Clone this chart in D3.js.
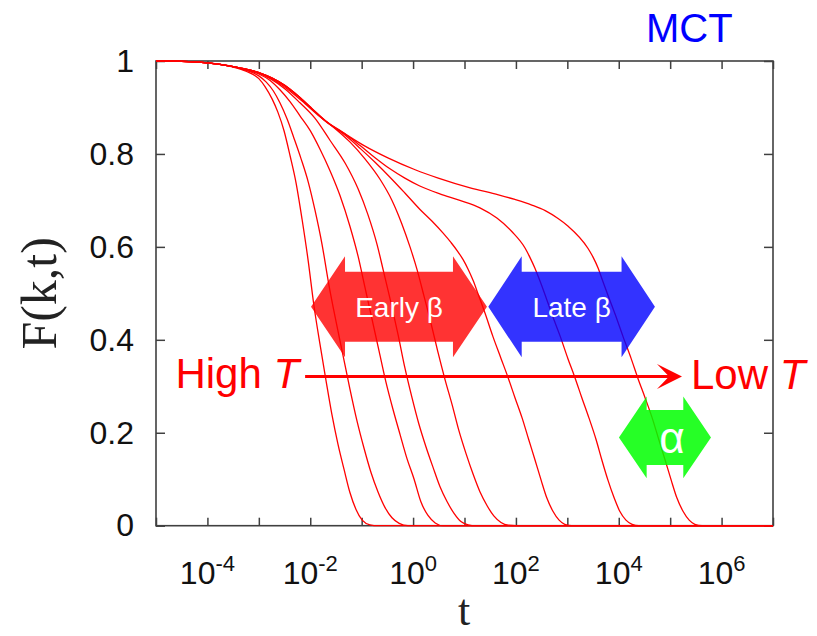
<!DOCTYPE html>
<html>
<head>
<meta charset="utf-8">
<script src="https://cdnjs.cloudflare.com/ajax/libs/d3/7.8.5/d3.min.js"></script>
<style>
  body { margin: 0; background: #fff; }
  svg text { font-family: "Liberation Sans", Arial, sans-serif; }
</style>
</head>
<body>
<svg id="chart" width="817" height="636"></svg>
<script>
// ---- data -------------------------------------------------------------
// Each curve: [log10 t, F(k,t)] samples, from high T (fast) to low T (slow).
const curveHighT1 = [[-5,1],[-4.5,0.9993],[-4,0.996],[-3.5,0.987],[-3.25,0.978],[-3.0,0.962],[-2.88,0.945],[-2.74,0.918],[-2.63,0.89],[-2.51,0.85],[-2.39,0.795],[-2.28,0.74],[-2.16,0.66],[-2.04,0.57],[-1.93,0.475],[-1.81,0.39],[-1.69,0.31],[-1.58,0.24],[-1.46,0.175],[-1.34,0.12],[-1.23,0.072],[-1.11,0.035],[-0.99,0.012],[-0.84,0.002],[-0.68,0],[7,0]];
const curveT2 = [[-5,1],[-4.5,0.9993],[-4,0.996],[-3.5,0.988],[-3.25,0.980],[-3.0,0.968],[-2.86,0.955],[-2.72,0.936],[-2.59,0.91],[-2.45,0.875],[-2.32,0.835],[-2.18,0.79],[-2.04,0.74],[-1.91,0.68],[-1.77,0.605],[-1.64,0.52],[-1.50,0.44],[-1.36,0.365],[-1.23,0.295],[-1.09,0.225],[-0.95,0.165],[-0.82,0.115],[-0.68,0.072],[-0.55,0.04],[-0.41,0.017],[-0.27,0.005],[-0.10,0],[7,0]];
const curveT3 = [[-5,1],[-4.5,0.9993],[-4,0.996],[-3.5,0.988],[-3.25,0.981],[-3.0,0.972],[-2.78,0.958],[-2.59,0.938],[-2.39,0.912],[-2.20,0.882],[-2.00,0.85],[-1.81,0.81],[-1.62,0.765],[-1.42,0.71],[-1.23,0.645],[-1.07,0.58],[-0.94,0.515],[-0.80,0.445],[-0.66,0.375],[-0.53,0.31],[-0.39,0.25],[-0.25,0.195],[-0.12,0.145],[0.02,0.10],[0.15,0.052],[0.29,0.022],[0.43,0.006],[0.58,0],[7,0]];
const curveT4 = [[-5,1],[-4.5,0.9993],[-4,0.996],[-3.5,0.988],[-3.25,0.9822],[-3.0,0.974],[-2.78,0.962],[-2.49,0.94],[-2.20,0.91],[-1.91,0.877],[-1.62,0.83],[-1.32,0.78],[-1.07,0.725],[-0.88,0.67],[-0.70,0.605],[-0.57,0.545],[-0.43,0.48],[-0.29,0.41],[-0.16,0.34],[-0.02,0.275],[0.11,0.22],[0.25,0.17],[0.39,0.125],[0.52,0.085],[0.66,0.052],[0.80,0.026],[0.93,0.009],[1.07,0.002],[1.22,0],[7,0]];
const curveT5 = [[-5,1],[-4.5,0.9993],[-4,0.996],[-3.5,0.988],[-3.25,0.9825],[-3.0,0.975],[-2.69,0.958],[-2.39,0.935],[-2.10,0.908],[-1.81,0.88],[-1.52,0.855],[-1.23,0.826],[-0.94,0.79],[-0.64,0.745],[-0.41,0.70],[-0.22,0.65],[-0.06,0.60],[0.08,0.55],[0.21,0.495],[0.35,0.435],[0.48,0.375],[0.62,0.315],[0.76,0.26],[0.89,0.205],[1.03,0.155],[1.17,0.11],[1.30,0.073],[1.44,0.043],[1.57,0.021],[1.71,0.007],[1.85,0.001],[2.00,0],[7,0]];
const curveT6 = [[-5,1],[-4.5,0.9993],[-4,0.996],[-3.5,0.988],[-3.25,0.9825],[-3.0,0.975],[-2.74,0.963],[-2.49,0.947],[-2.24,0.925],[-1.97,0.897],[-1.62,0.864],[-1.32,0.840],[-1.03,0.812],[-0.74,0.782],[-0.45,0.750],[-0.16,0.716],[0.13,0.681],[0.37,0.655],[0.58,0.630],[0.74,0.609],[0.87,0.590],[0.97,0.573],[1.07,0.552],[1.17,0.527],[1.26,0.500],[1.40,0.457],[1.55,0.408],[1.71,0.36],[1.85,0.318],[1.98,0.276],[2.12,0.232],[2.25,0.185],[2.37,0.142],[2.49,0.098],[2.60,0.06],[2.72,0.031],[2.84,0.012],[2.95,0.003],[3.09,0],[7,0]];
const curveT7 = [[-5,1],[-4.5,0.9993],[-4,0.996],[-3.5,0.988],[-3.25,0.9825],[-3.0,0.975],[-2.74,0.963],[-2.49,0.947],[-2.24,0.925],[-1.97,0.898],[-1.71,0.871],[-1.32,0.843],[-1.03,0.818],[-0.74,0.792],[-0.45,0.768],[-0.16,0.748],[0.13,0.731],[0.52,0.714],[0.91,0.700],[1.30,0.684],[1.63,0.662],[1.92,0.633],[2.18,0.597],[2.27,0.578],[2.37,0.554],[2.47,0.526],[2.57,0.496],[2.70,0.455],[2.86,0.408],[3.01,0.36],[3.15,0.318],[3.28,0.276],[3.42,0.232],[3.56,0.185],[3.67,0.142],[3.79,0.098],[3.91,0.06],[4.02,0.031],[4.14,0.012],[4.26,0.003],[4.39,0],[7,0]];
const curveLowT8 = [[-5,1],[-4.5,0.9993],[-4,0.996],[-3.5,0.988],[-3.25,0.9825],[-3.0,0.975],[-2.74,0.963],[-2.49,0.947],[-2.24,0.925],[-1.97,0.898],[-1.71,0.872],[-1.39,0.848],[-0.97,0.819],[-0.48,0.791],[0.04,0.766],[0.49,0.748],[1.11,0.727],[1.66,0.712],[1.98,0.702],[2.31,0.690],[2.57,0.678],[2.82,0.661],[3.01,0.645],[3.40,0.597],[3.50,0.578],[3.60,0.554],[3.69,0.526],[3.79,0.496],[3.93,0.455],[4.08,0.408],[4.24,0.36],[4.37,0.318],[4.51,0.276],[4.65,0.232],[4.78,0.185],[4.90,0.142],[5.02,0.098],[5.13,0.06],[5.25,0.031],[5.37,0.012],[5.48,0.003],[5.62,0],[7,0]];
const curves = [curveHighT1, curveT2, curveT3, curveT4, curveT5, curveT6, curveT7, curveLowT8];

const decadeExponents = [-5,-4,-3,-2,-1,0,1,2,3,4,5,6,7];
const labelledExponents = [-4,-2,0,2,4,6];
const yTickValues = [0, 0.2, 0.4, 0.6, 0.8, 1];
const yTickLabels = ["0", "0.2", "0.4", "0.6", "0.8", "1"];

// Regime markers: log10 t span of each double arrow and the F level of its axis
const regimeNames = ["Early \u03b2", "Late \u03b2", "\u03b1"];
const regimeStart = [-1.985, 1.463, 4.004];
const regimeEnd = [1.437, 4.704, 5.794];
const regimeLevel = [0.471, 0.471, 0.190];

// Temperature arrow: log10 t span and F level
const tempArrowSpan = [-2.10, 5.23];
const tempArrowLevel = 0.321;

// ---- layout -----------------------------------------------------------
const plot = { left: 156, right: 773, top: 61, bottom: 525.7 };

const svg = d3.select("#chart");
const x = d3.scaleLog().domain([1e-5, 1e7]).range([plot.left, plot.right]);
const y = d3.scaleLinear().domain([0, 1]).range([plot.bottom, plot.top]);
const xt = L => x(Math.pow(10, L));

const axisColor = "#404040";

// frame
svg.append("rect")
  .attr("x", plot.left).attr("y", plot.top)
  .attr("width", plot.right - plot.left).attr("height", plot.bottom - plot.top)
  .attr("fill", "none").attr("stroke", axisColor).attr("stroke-width", 1.6);

// inward ticks on all four sides
const decades = decadeExponents.map(e => Math.pow(10, e));
function styleAxis(g) {
  g.select(".domain").remove();
  g.selectAll(".tick line").attr("stroke", axisColor).attr("stroke-width", 1.5);
}
svg.append("g").attr("transform", `translate(0,${plot.bottom})`)
  .call(d3.axisBottom(x).tickValues(decades).tickSize(-8).tickFormat(""))
  .call(styleAxis);
svg.append("g").attr("transform", `translate(0,${plot.top})`)
  .call(d3.axisTop(x).tickValues(decades).tickSize(-8).tickFormat(""))
  .call(styleAxis);
svg.append("g").attr("transform", `translate(${plot.right},0)`)
  .call(d3.axisRight(y).tickValues(yTickValues).tickSize(-9).tickFormat(""))
  .call(styleAxis);
const yAxis = svg.append("g").attr("transform", `translate(${plot.left},0)`)
  .call(d3.axisLeft(y).tickValues(yTickValues).tickSize(-9).tickPadding(22)
    .tickFormat((d, i) => yTickLabels[i]))
  .call(styleAxis);
yAxis.selectAll(".tick text")
  .attr("font-family", "Liberation Sans, Arial, sans-serif")
  .attr("font-size", 32).attr("fill", "#111");

// x tick labels as powers of ten
const xl = svg.append("g");
labelledExponents.forEach(e => {
  const t = xl.append("text")
    .attr("x", x(Math.pow(10, e))).attr("y", 584)
    .attr("text-anchor", "middle").attr("font-size", 32).attr("fill", "#111");
  t.append("tspan").text("10");
  t.append("tspan").attr("dy", -13).attr("font-size", 22).text(e);
});

// axis titles
svg.append("text")
  .attr("transform", `translate(56,${(plot.top + plot.bottom) / 2}) rotate(-90)`)
  .attr("text-anchor", "middle")
  .style("font-family", "'Liberation Serif', 'Times New Roman', serif")
  .attr("font-size", 50).attr("fill", "#222").text("F(k,t)");
svg.append("text")
  .attr("x", 464).attr("y", 625).attr("text-anchor", "middle")
  .style("font-family", "'Liberation Serif', 'Times New Roman', serif")
  .attr("font-size", 44).attr("fill", "#222").text("t");

// correlation curves
const line = d3.line()
  .x(d => xt(d[0]))
  .y(d => y(d[1]))
  .curve(d3.curveMonotoneX);
svg.append("g").selectAll("path").data(curves).join("path")
  .attr("d", line)
  .attr("fill", "none").attr("stroke", "#ff0000").attr("stroke-width", 1.3);

// double-headed regime arrows
const regimeStyle = [
  { fill: "rgba(255,0,0,0.8)", head: 34, headHalf: 50.5, shaftHalf: 35, size: 28, dx: 0 },
  { fill: "rgba(0,0,255,0.8)", head: 33.4, headHalf: 50.5, shaftHalf: 35, size: 28, dx: 0 },
  { fill: "rgba(0,255,0,0.85)", head: 27.7, headHalf: 40.8, shaftHalf: 27.5, size: 44, dx: 7 }
];
regimeNames.forEach((name, i) => {
  const s = regimeStyle[i];
  const x1 = xt(regimeStart[i]), x2 = xt(regimeEnd[i]), yc = y(regimeLevel[i]);
  const pts = [
    [x1, yc], [x1 + s.head, yc - s.headHalf], [x1 + s.head, yc - s.shaftHalf],
    [x2 - s.head, yc - s.shaftHalf], [x2 - s.head, yc - s.headHalf], [x2, yc],
    [x2 - s.head, yc + s.headHalf], [x2 - s.head, yc + s.shaftHalf],
    [x1 + s.head, yc + s.shaftHalf], [x1 + s.head, yc + s.headHalf]
  ];
  svg.append("polygon").attr("points", pts.map(p => p.join(",")).join(" "))
    .attr("fill", s.fill);
  svg.append("text")
    .attr("x", (x1 + x2) / 2 + s.dx).attr("y", yc)
    .attr("dy", "0.36em")
    .attr("text-anchor", "middle").attr("fill", "#fff")
    .attr("font-size", s.size).text(name);
});

// High T -> Low T arrow
const ay = y(tempArrowLevel);
const ax1 = xt(tempArrowSpan[0]), ax2 = xt(tempArrowSpan[1]);
svg.append("line")
  .attr("x1", ax1).attr("x2", ax2 - 12).attr("y1", ay).attr("y2", ay)
  .attr("stroke", "#ff0000").attr("stroke-width", 3);
svg.append("polygon")
  .attr("points", [[ax2, ay], [ax2 - 25, ay - 12.5], [ax2 - 13, ay], [ax2 - 25, ay + 12.5]]
    .map(p => p.join(",")).join(" "))
  .attr("fill", "#ff0000");

const high = svg.append("text").attr("x", ax1 - 6).attr("y", 388)
  .attr("text-anchor", "end").attr("font-size", 42).attr("fill", "#ff0000");
high.append("tspan").text("High ");
high.append("tspan").attr("font-style", "italic").text("T");

const low = svg.append("text").attr("x", ax2 + 9).attr("y", 389)
  .attr("font-size", 42).attr("fill", "#ff0000");
low.append("tspan").text("Low ");
low.append("tspan").attr("font-style", "italic").text("T");

// model tag
svg.append("text").attr("x", 646).attr("y", 42)
  .attr("font-size", 40).attr("fill", "#0000ff").text("MCT");
</script>
</body>
</html>
